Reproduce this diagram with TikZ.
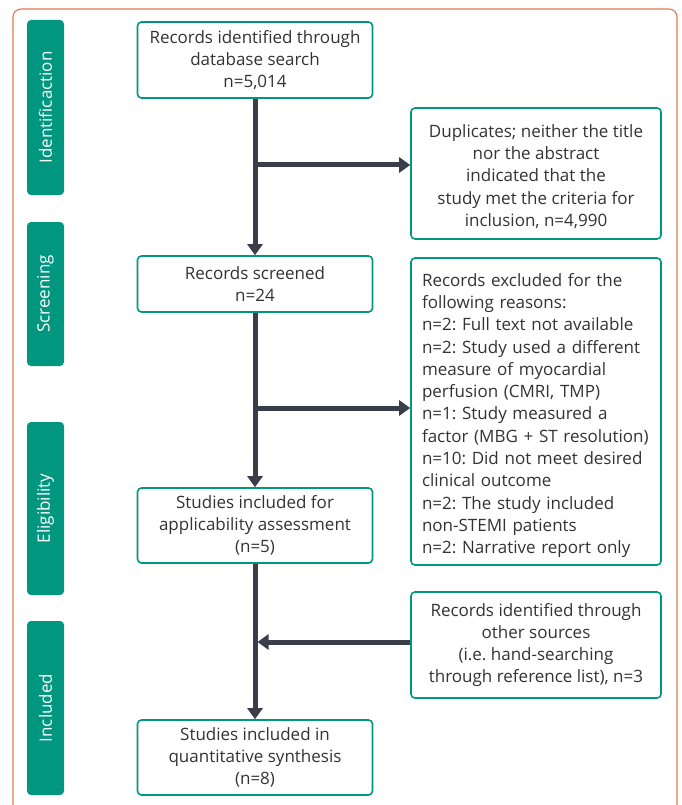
\documentclass[tikz,border=0pt]{standalone}
\usepackage{fontspec}
\setmainfont{Open Sans}
\usetikzlibrary{arrows.meta}
\definecolor{teal}{RGB}{0,150,128}
\definecolor{orng}{RGB}{226,120,80}
\definecolor{arrc}{RGB}{58,62,74}
\definecolor{txt}{RGB}{51,51,51}
\frenchspacing
\tikzset{
  x=1pt, y=-1pt,
  box/.style={draw=teal, line width=1.6pt, rounded corners=4pt, fill=white, text=txt,
    font=\fontsize{17}{22.3}\selectfont, align=center, inner sep=0pt},
  side/.style={fill=teal, rounded corners=4pt, text=white, rotate=90,
    font=\fontsize{17}{18}\selectfont, inner sep=0pt},
  arr/.style={draw=arrc, line width=5pt, -{Triangle[width=15pt,length=11pt]}},
}
\begin{document}
\begin{tikzpicture}
\useasboundingbox (0,0) rectangle (681,805);
\begin{scope}
\clip (0,0) rectangle (681,805);
\draw[orng, line width=1.1pt, rounded corners=8pt] (13,9) rectangle (677,830);
\end{scope}
% side labels
\node[side, minimum width=175pt, minimum height=37pt] (sid) at (45.5,107.5) {Identificaction};
\node[side, minimum width=144pt, minimum height=37pt] (sscr) at (45.5,294) {Screening};
\node[side, minimum width=173pt, minimum height=37pt] (seli) at (45.5,508.5) {Eligibility};
\node[side, minimum width=174pt, minimum height=37pt] (sinc) at (45.5,708) {Included};
% main boxes
\node[box, minimum width=235pt, minimum height=76pt] (b1) at (255,60) {Records identified through\\database search\\n=5,014};
\node[box, minimum width=235pt, minimum height=56pt] (b2) at (255,284) {Records screened\\n=24};
\node[box, minimum width=235pt, minimum height=75pt] (b3) at (255,525.5) {Studies included for\\applicability assessment\\(n=5)};
\node[box, minimum width=235pt, minimum height=75pt] (b4) at (255,757.5) {Studies included in\\quantitative synthesis\\(n=8)};
% right boxes
\node[box, minimum width=250pt, minimum height=131pt] (dup) at (536,173.5) {\rule{0pt}{19pt}Duplicates; neither the title\\nor the abstract\\indicated that the\\study met the criteria for\\inclusion, n=4,990};
\node[box, minimum width=250pt, minimum height=307pt, align=left, text width=228pt] (exc) at (536,411.5) {\rule{0pt}{21pt}Records excluded for the\\following reasons:\\n=2: Full text not available\\n=2: Study used a different\\measure of myocardial\\perfusion (CMRI, TMP)\\n=1: Study measured a\\factor (MBG + ST resolution)\\n=10: Did not meet desired\\clinical outcome\\n=2: The study included\\non-STEMI patients\\n=2: Narrative report only};
\node[box, minimum width=250pt, minimum height=106pt] (oth) at (536,645) {Records identified through\\other sources\\ (i.e. hand-searching\\through reference list), n=3};
% connectors
\coordinate (j1) at (255,165);
\coordinate (j2) at (255,408);
\coordinate (j3) at (255,642);
\draw[arr] (b1) -- (b2);
\draw[arr] (j1) -- (j1 -| dup.west);
\draw[arr] (b2) -- (b3);
\draw[arr] (j2) -- (j2 -| exc.west);
\draw[arr] (b3) -- (b4);
\draw[arr] (j3 -| oth.west) -- ([xshift=2.5pt]j3);
\end{tikzpicture}
\end{document}
